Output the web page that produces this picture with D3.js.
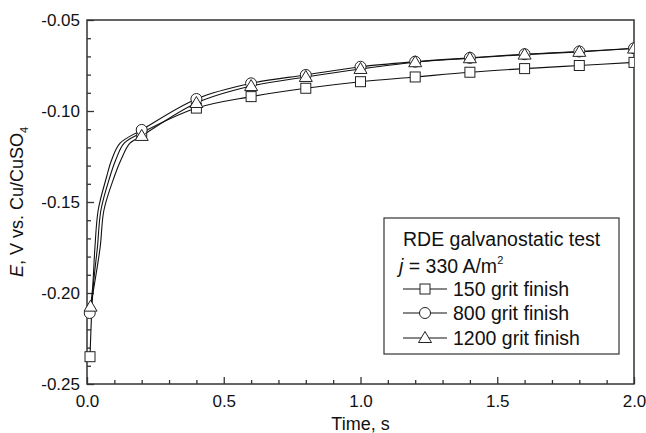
<!DOCTYPE html>
<html>
<head>
<meta charset="utf-8">
<script src="https://cdn.jsdelivr.net/npm/d3@7"></script>
<style>
  body { margin: 0; background: #fff; }
  text { font-family: "Liberation Sans", Arial, sans-serif; fill: #111; }
</style>
</head>
<body>
<div class="chart"></div>
<script>
// data
var seriesNames = ["150 grit finish", "800 grit finish", "1200 grit finish"];
var seriesShapes = ["square", "circle", "triangle"];

var t150 = [0.011, 0.022, 0.038, 0.051, 0.084, 0.105, 0.136, 0.2, 0.4, 0.6, 0.8, 1.0, 1.2, 1.4, 1.6, 1.8, 2.0];
var e150 = [-0.235, -0.198, -0.175, -0.1544, -0.136, -0.1269, -0.1177, -0.112, -0.0984, -0.0921, -0.0875, -0.0839, -0.0813, -0.0787, -0.0767, -0.0750, -0.0733];

var t800 = [0.010, 0.020, 0.029, 0.041, 0.072, 0.090, 0.121, 0.2, 0.4, 0.6, 0.8, 1.0, 1.2, 1.4, 1.6, 1.8, 2.0];
var e800 = [-0.211, -0.198, -0.175, -0.1544, -0.136, -0.1269, -0.1177, -0.1104, -0.0934, -0.0848, -0.0802, -0.0757, -0.0729, -0.0708, -0.0688, -0.0673, -0.0655];

var t1200 = [0.013, 0.024, 0.048, 0.062, 0.100, 0.124, 0.157, 0.2, 0.4, 0.6, 0.8, 1.0, 1.2, 1.4, 1.6, 1.8, 2.0];
var e1200 = [-0.2075, -0.198, -0.175, -0.1544, -0.136, -0.1269, -0.1177, -0.1137, -0.0956, -0.0863, -0.0813, -0.0769, -0.0732, -0.0710, -0.0690, -0.0675, -0.0657];

// marker times (plus the first point of each series)
var markerTimes = [0.2, 0.4, 0.6, 0.8, 1.0, 1.2, 1.4, 1.6, 1.8, 2.0];

var xTicks = [0.0, 0.5, 1.0, 1.5, 2.0];
var xTickLabels = ["0.0", "0.5", "1.0", "1.5", "2.0"];
var yTicks = [-0.25, -0.20, -0.15, -0.10, -0.05];
var yTickLabels = ["-0.25", "-0.20", "-0.15", "-0.10", "-0.05"];

var svgWidth = 646;
var svgHeight = 433;
var margin = { top: 20, right: 12, bottom: 49, left: 87 };
var width = svgWidth - margin.left - margin.right;
var height = svgHeight - margin.top - margin.bottom;

var svg = d3.select(".chart").append("svg")
  .attr("width", svgWidth)
  .attr("height", svgHeight);

var chartGroup = svg.append("g")
  .attr("transform", `translate(${margin.left}, ${margin.top})`);

var x = d3.scaleLinear().domain([0, 2]).range([0, width]);
var y = d3.scaleLinear().domain([-0.25, -0.05]).range([height, 0]);

// minor ticks
var xMinor = d3.range(0, 21).map(i => i / 10).filter(v => xTicks.indexOf(v) < 0);
var yMinor = d3.range(-25, -4).map(i => i / 100).filter(v => yTicks.every(t => Math.abs(t - v) > 1e-9));

chartGroup.append("g")
  .attr("transform", `translate(0, ${height})`)
  .call(d3.axisBottom(x).tickValues(xMinor).tickFormat("").tickSizeInner(-4).tickSizeOuter(0))
  .call(g => g.select(".domain").remove());
chartGroup.append("g")
  .call(d3.axisLeft(y).tickValues(yMinor).tickFormat("").tickSizeInner(-4).tickSizeOuter(0))
  .call(g => g.select(".domain").remove());

var xAxis = chartGroup.append("g")
  .attr("transform", `translate(0, ${height})`)
  .call(d3.axisBottom(x).tickValues(xTicks).tickFormat((d, i) => xTickLabels[i])
    .tickSizeInner(-7).tickSizeOuter(0).tickPadding(11));
xAxis.select(".domain").remove();
xAxis.selectAll("text").attr("font-size", 17).style("font-family", "Liberation Sans, Arial, sans-serif");

var yAxis = chartGroup.append("g")
  .call(d3.axisLeft(y).tickValues(yTicks).tickFormat((d, i) => yTickLabels[i])
    .tickSizeInner(-7).tickSizeOuter(0).tickPadding(7));
yAxis.select(".domain").remove();
yAxis.selectAll("text").attr("font-size", 17).attr("dy", "0.35em").style("font-family", "Liberation Sans, Arial, sans-serif");

chartGroup.selectAll(".tick line").attr("stroke", "#333").attr("stroke-width", 1.3);

// frame
chartGroup.append("rect")
  .attr("width", width).attr("height", height)
  .attr("fill", "none").attr("stroke", "#333").attr("stroke-width", 1.5);

// lines
var series = [
  { name: seriesNames[0], shape: seriesShapes[0], t: t150, e: e150 },
  { name: seriesNames[1], shape: seriesShapes[1], t: t800, e: e800 },
  { name: seriesNames[2], shape: seriesShapes[2], t: t1200, e: e1200 }
];

var line = d3.line()
  .x(d => x(d[0]))
  .y(d => y(d[1]))
  .curve(d3.curveCatmullRom.alpha(0.5));

function drawMarker(g, shape, cx, cy) {
  if (shape === "square") {
    g.append("rect").attr("x", cx - 5).attr("y", cy - 5).attr("width", 10).attr("height", 10)
      .attr("fill", "#fff").attr("stroke", "#222").attr("stroke-width", 1);
  } else if (shape === "circle") {
    g.append("circle").attr("cx", cx).attr("cy", cy).attr("r", 5.5)
      .attr("fill", "#fff").attr("stroke", "#222").attr("stroke-width", 1);
  } else {
    g.append("path")
      .attr("d", `M${cx},${cy - 6.5}L${cx + 6.5},${cy + 4.5}L${cx - 6.5},${cy + 4.5}Z`)
      .attr("fill", "#fff").attr("stroke", "#222").attr("stroke-width", 1);
  }
}

svg.append("defs").append("clipPath").attr("id", "clip")
  .append("rect").attr("x", -8).attr("y", -8).attr("width", width + 8).attr("height", height + 16);

series.forEach(function(s) {
  var pts = s.t.map((t, i) => [t, s.e[i]]);
  chartGroup.append("path")
    .datum(pts)
    .attr("d", line)
    .attr("fill", "none")
    .attr("stroke", "#111")
    .attr("stroke-width", 1.1);
});

series.forEach(function(s) {
  var mg = chartGroup.append("g").attr("clip-path", "url(#clip)");
  s.t.forEach(function(t, i) {
    var isMarker = i === 0 || markerTimes.some(m => Math.abs(m - t) < 1e-9);
    if (isMarker) drawMarker(mg, s.shape, x(t), y(s.e[i]));
  });
});

// axis titles
chartGroup.append("text")
  .attr("x", width / 2)
  .attr("y", height + 46)
  .attr("text-anchor", "middle")
  .attr("font-size", 18)
  .text("Time, s");

var yTitle = svg.append("text")
  .attr("transform", `translate(23, ${margin.top + height / 2}) rotate(-90)`)
  .attr("text-anchor", "middle")
  .attr("font-size", 18);
yTitle.append("tspan").attr("font-style", "italic").text("E");
yTitle.append("tspan").text(", V vs. Cu/CuSO");
yTitle.append("tspan").attr("font-size", 11).attr("dy", 5).text("4");

// legend
var legend = svg.append("g");
legend.append("rect")
  .attr("x", 384).attr("y", 218).attr("width", 235).attr("height", 136)
  .attr("fill", "#fff").attr("stroke", "#333").attr("stroke-width", 1.2);

legend.append("text").attr("x", 403).attr("y", 246).attr("font-size", 19.5)
  .text("RDE galvanostatic test");

var jText = legend.append("text").attr("x", 399).attr("y", 273).attr("font-size", 19.5);
jText.append("tspan").attr("font-style", "italic").text("j");
jText.append("tspan").text(" = 330 A/m");
jText.append("tspan").attr("font-size", 11).attr("dy", -9).text("2");

var legendY = [296, 320, 345];
series.forEach(function(s, i) {
  var ly = legendY[i] - 7;
  legend.append("line")
    .attr("x1", 403).attr("x2", 447).attr("y1", ly).attr("y2", ly)
    .attr("stroke", "#111").attr("stroke-width", 1.1);
  drawMarker(legend, s.shape, 425, ly);
  legend.append("text").attr("x", 453).attr("y", legendY[i]).attr("font-size", 19.5)
    .text(s.name);
});
</script>
</body>
</html>
